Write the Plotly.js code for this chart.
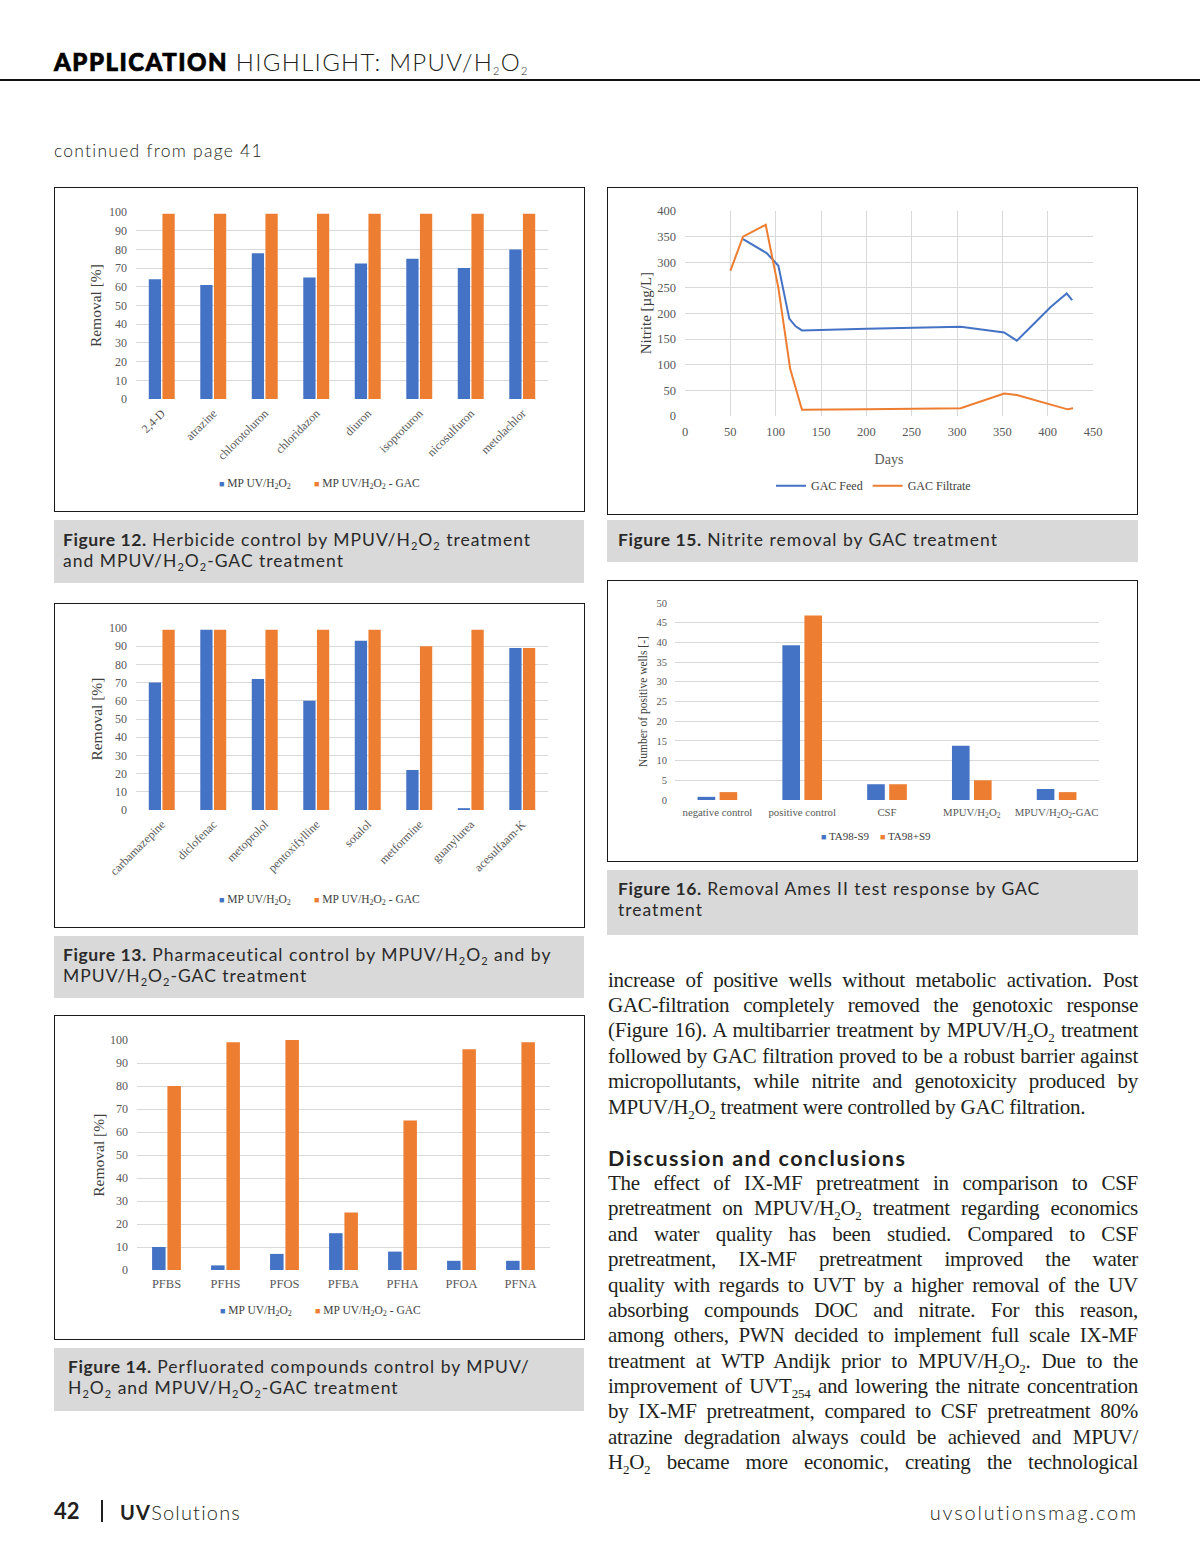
<!DOCTYPE html>
<html>
<head>
<meta charset="utf-8">
<script src="https://cdn.plot.ly/plotly-3.0.1.min.js"></script>
<style>
  html,body{margin:0;padding:0;background:#fff;}
  body{width:1200px;height:1558px;position:relative;overflow:hidden;font-family:"Lato","Open Sans",sans-serif;color:#231f20;}
  .abs{position:absolute;}
  .box{position:absolute;border:1.5px solid #1a1a1a;background:#fff;box-sizing:border-box;}
  .plot{position:absolute;left:0;top:0;}
  .cap{position:absolute;background:#d9d9d9;font-family:"Lato",sans-serif;font-size:17.5px;letter-spacing:1.0px;color:#2a2a2a;line-height:21px;box-sizing:border-box;white-space:nowrap;}
  .cap b{font-weight:700;letter-spacing:0.6px;}
  .cap sub, .hdr sub{font-size:11px;vertical-align:-4px;line-height:0;}
  .tl{position:absolute;left:608px;width:530px;font-family:"Liberation Serif","Times New Roman",serif;font-size:21px;letter-spacing:-0.25px;line-height:25px;height:25px;text-align:justify;text-align-last:justify;color:#231f20;white-space:nowrap;}
  .tl.last{text-align-last:left;}
  .tl sub{font-size:13px;vertical-align:-5px;line-height:0;}
</style>
</head>
<body>
<!-- header -->
<div class="abs hdr" style="left:54px;top:47px;font-size:24px;line-height:30px;white-space:nowrap;">
  <span style="font-weight:900;letter-spacing:1.5px;-webkit-text-stroke:0.7px #000;color:#000;">APPLICATION</span><span style="font-weight:300;letter-spacing:1.3px;"> HIGHLIGHT: MPUV/H<sub>2</sub>O<sub>2</sub></span>
</div>
<div class="abs" style="left:0;top:79px;width:1200px;height:2px;background:#111;"></div>
<div class="abs" style="left:54px;top:140px;font-size:17.5px;font-weight:300;letter-spacing:1.25px;">continued from page 41</div>

<!-- chart boxes -->
<div class="box" style="left:54px;top:187px;width:531px;height:325px;"><div id="fig12" class="plot"></div></div>
<div class="cap" style="left:54px;top:520px;width:530px;height:63px;padding:9px 0 0 9px;"><b>Figure 12.</b> Herbicide control by MPUV/H<sub>2</sub>O<sub>2</sub> treatment<br>and MPUV/H<sub>2</sub>O<sub>2</sub>-GAC treatment</div>

<div class="box" style="left:54px;top:603px;width:531px;height:325px;"><div id="fig13" class="plot"></div></div>
<div class="cap" style="left:54px;top:936px;width:530px;height:62px;padding:8px 0 0 9px;"><b>Figure 13.</b> Pharmaceutical control by MPUV/H<sub>2</sub>O<sub>2</sub> and by<br>MPUV/H<sub>2</sub>O<sub>2</sub>-GAC treatment</div>

<div class="box" style="left:54px;top:1015px;width:531px;height:325px;"><div id="fig14" class="plot"></div></div>
<div class="cap" style="left:54px;top:1348px;width:530px;height:63px;padding:8px 0 0 14px;"><b>Figure 14.</b> Perfluorated compounds control by MPUV/<br>H<sub>2</sub>O<sub>2</sub> and MPUV/H<sub>2</sub>O<sub>2</sub>-GAC treatment</div>

<div class="box" style="left:607px;top:187px;width:531px;height:328px;"><div id="fig15" class="plot"></div></div>
<div class="cap" style="left:607px;top:520px;width:531px;height:42px;padding:9px 0 0 11px;"><b>Figure 15.</b> Nitrite removal by GAC treatment</div>

<div class="box" style="left:607px;top:580px;width:531px;height:282px;"><div id="fig16" class="plot"></div></div>
<div class="cap" style="left:607px;top:870px;width:531px;height:65px;padding:8px 0 0 11px;"><b>Figure 16.</b> Removal Ames II test response by GAC<br>treatment</div>

<!-- text column -->
<div class="tl" style="top:968px;">increase of positive wells without metabolic activation. Post</div>
<div class="tl" style="top:993px;">GAC-filtration completely removed the genotoxic response</div>
<div class="tl" style="top:1018px;">(Figure 16). A multibarrier treatment by MPUV/H<sub>2</sub>O<sub>2</sub> treatment</div>
<div class="tl" style="top:1044px;">followed by GAC filtration proved to be a robust barrier against</div>
<div class="tl" style="top:1069px;">micropollutants, while nitrite and genotoxicity produced by</div>
<div class="tl last" style="top:1095px;">MPUV/H<sub>2</sub>O<sub>2</sub> treatment were controlled by GAC filtration.</div>

<div class="abs" style="left:608px;top:1145px;font-family:'Lato',sans-serif;font-weight:700;font-size:21.5px;letter-spacing:1.5px;line-height:26px;white-space:nowrap;">Discussion and conclusions</div>

<div class="tl" style="top:1171px;">The effect of IX-MF pretreatment in comparison to CSF</div>
<div class="tl" style="top:1196px;">pretreatment on MPUV/H<sub>2</sub>O<sub>2</sub> treatment regarding economics</div>
<div class="tl" style="top:1222px;">and water quality has been studied. Compared to CSF</div>
<div class="tl" style="top:1247px;">pretreatment, IX-MF pretreatment improved the water</div>
<div class="tl" style="top:1273px;">quality with regards to UVT by a higher removal of the UV</div>
<div class="tl" style="top:1298px;">absorbing compounds DOC and nitrate. For this reason,</div>
<div class="tl" style="top:1323px;">among others, PWN decided to implement full scale IX-MF</div>
<div class="tl" style="top:1349px;">treatment at WTP Andijk prior to MPUV/H<sub>2</sub>O<sub>2</sub>. Due to the</div>
<div class="tl" style="top:1374px;">improvement of UVT<sub>254</sub> and lowering the nitrate concentration</div>
<div class="tl" style="top:1399px;">by IX-MF pretreatment, compared to CSF pretreatment 80%</div>
<div class="tl" style="top:1425px;">atrazine degradation always could be achieved and MPUV/</div>
<div class="tl" style="top:1450px;">H<sub>2</sub>O<sub>2</sub> became more economic, creating the technological</div>

<!-- footer -->
<div class="abs" style="left:54px;top:1497px;font-size:22px;font-weight:700;line-height:28px;">42</div>
<div class="abs" style="left:101px;top:1500px;width:1.5px;height:22px;background:#231f20;"></div>
<div class="abs" style="left:120px;top:1499px;font-size:20px;line-height:26px;letter-spacing:1.2px;white-space:nowrap;"><span style="font-weight:700;">UV</span><span style="font-weight:300;">Solutions</span></div>
<div class="abs" style="right:62px;top:1499px;font-size:20px;line-height:26px;font-weight:300;letter-spacing:1.85px;white-space:nowrap;">uvsolutionsmag.com</div>

<script>
// ---------- data ----------
const herbCats = ['2,4-D','atrazine','chlorotoluron','chloridazon','diuron','isoproturon','nicosulfuron','metolachlor'];
const herbUV   = [64, 61, 78, 65, 72.5, 75, 70, 80];
const herbGAC  = [99, 99, 99, 99, 99, 99, 99, 99];

const pharmCats = ['carbamazepine','diclofenac','metoprolol','pentoxifylline','sotalol','metformine','guanylurea','acesulfaam-K'];
const pharmUV   = [70, 99, 72, 60, 93, 22, 1, 89];
const pharmGAC  = [99, 99, 99, 99, 99, 90, 99, 89];

const pfasCats = ['PFBS','PFHS','PFOS','PFBA','PFHA','PFOA','PFNA'];
const pfasUV   = [10, 2, 7, 16, 8, 4, 4];
const pfasGAC  = [80, 99, 100, 25, 65, 96, 99];

const feedDays    = [64, 90, 103, 115, 122, 129, 200, 304, 352, 366, 403, 421, 427];
const feedNitrite = [345, 318, 293, 190, 175, 167, 170, 174, 163, 147, 212, 239, 226];
const filtDays    = [50, 64, 89, 103, 116, 129, 200, 304, 352, 366, 422, 428];
const filtNitrite = [283, 350, 373, 250, 92, 12, 13, 15, 44, 41, 13, 15];

const amesCats  = ['negative control','positive control','CSF','MPUV/H<sub>2</sub>O<sub>2</sub>','MPUV/H<sub>2</sub>O<sub>2</sub>-GAC'];
const amesMinus = [0.8, 39.3, 4, 13.8, 2.8];
const amesPlus  = [2, 46.8, 4, 5, 2];

const seriesUV  = 'MP UV/H<sub>2</sub>O<sub>2</sub>';
const seriesGAC = 'MP UV/H<sub>2</sub>O<sub>2</sub> - GAC';
const BLUE = '#4472C4', ORANGE = '#ED7D31';
const SERIF = '"Liberation Serif","Times New Roman",serif';
const GRID = '#d9d9d9';
const cfg = {staticPlot:true, displayModeBar:false};

function yTitle(text, x, size){
  return {xref:'paper', yref:'paper', x:x, y:0.5, xanchor:'center', yanchor:'middle',
          text:text, textangle:-90, showarrow:false, font:{family:SERIF, size:size, color:'#404040'}};
}

// legend entries drawn as annotations (small Excel-style squares), positions in div pixels
function legendAnns(w, h, m, items, yPx, fs){
  const pw = w - m.l - m.r, ph = h - m.t - m.b;
  return items.map(it => ({
    xref:'paper', yref:'paper', x:(it.px - m.l)/pw, y:(h - m.b - yPx)/ph,
    xanchor:'left', yanchor:'middle', showarrow:false,
    text:'<span style="color:'+it.color+';font-size:9px;">■</span> '+it.text,
    font:{family:SERIF, size:fs, color:'#404040'}
  }));
}

function barChart(id, w, h, cats, a, b, names, m, leg, ttlX, opts){
  const traces = [
    {type:'bar', x:cats, y:a, name:names[0], marker:{color:BLUE}, showlegend:false},
    {type:'bar', x:cats, y:b, name:names[1], marker:{color:ORANGE}, showlegend:false}
  ];
  const layout = {
    width:w, height:h, margin:m, paper_bgcolor:'#fff', plot_bgcolor:'#fff',
    font:{family:SERIF, size:11, color:'#595959'},
    barmode:'group', bargap:opts.bargap, bargroupgap:opts.bargroupgap,
    xaxis:{tickangle:opts.tickangle, showgrid:false, zeroline:false, showline:false,
           tickfont:{family:SERIF, size:opts.xfs, color:'#595959'}, ticklabelstandoff:opts.xstandoff, automargin:false},
    yaxis:{range:opts.yrange, dtick:opts.dtick, showgrid:true, gridcolor:GRID, gridwidth:1, zeroline:false,
           tickfont:{family:SERIF, size:opts.yfs, color:'#595959'}, ticklabelstandoff:opts.standoff, automargin:false, fixedrange:true},
    showlegend:false,
    annotations:[yTitle(opts.ytitle, ttlX, opts.tfs)].concat(
      legendAnns(w, h, m, [{px:leg.x1, color:BLUE, text:names[0]}, {px:leg.x2, color:ORANGE, text:names[1]}], leg.y, opts.lfs))
  };
  Plotly.newPlot(id, traces, layout, cfg);
}

// Figure 12
barChart('fig12', 528, 322, herbCats, herbUV, herbGAC, [seriesUV, seriesGAC],
  {l:81, r:35, t:24, b:111}, {x1:162, x2:257, y:295.5}, -0.098,
  {bargap:0.47, bargroupgap:0.1, tickangle:-45, xfs:12, xstandoff:4, yfs:12, lfs:11.5, yrange:[0,100], dtick:10, standoff:8,
   ytitle:'Removal [%]', tfs:15.5});

// Figure 13
barChart('fig13', 528, 322, pharmCats, pharmUV, pharmGAC, [seriesUV, seriesGAC],
  {l:81, r:35, t:24, b:116}, {x1:162, x2:257, y:295.5}, -0.098,
  {bargap:0.47, bargroupgap:0.1, tickangle:-45, xfs:12, xstandoff:4, yfs:12, lfs:11.5, yrange:[0,100], dtick:10, standoff:8,
   ytitle:'Removal [%]', tfs:15.5});

// Figure 14
barChart('fig14', 528, 322, pfasCats, pfasUV, pfasGAC, [seriesUV, seriesGAC],
  {l:82, r:33, t:24, b:68}, {x1:163, x2:258, y:294.5}, -0.095,
  {bargap:0.48, bargroupgap:0.12, tickangle:0, xfs:12.5, xstandoff:4, yfs:12, lfs:11.5, yrange:[0,100], dtick:10, standoff:8,
   ytitle:'Removal [%]', tfs:15.5});

// Figure 15 (line)
Plotly.newPlot('fig15', [
  {type:'scatter', mode:'lines', x:feedDays, y:feedNitrite, name:'GAC Feed', line:{color:'#4472C4', width:2}},
  {type:'scatter', mode:'lines', x:filtDays, y:filtNitrite, name:'GAC Filtrate', line:{color:'#ED7D31', width:2}}
], {
  width:528, height:325, margin:{l:77, r:43, t:23, b:97}, paper_bgcolor:'#fff', plot_bgcolor:'#fff',
  font:{family:SERIF, size:11, color:'#595959'},
  xaxis:{range:[0,450], dtick:50, showgrid:true, gridcolor:GRID, zeroline:false, showline:false,
         tickfont:{family:SERIF, size:12.5, color:'#595959'}, ticklabelstandoff:6,
         title:{text:'Days', font:{family:SERIF, size:14, color:'#595959'}, standoff:16}, automargin:false},
  yaxis:{range:[0,400], dtick:50, showgrid:true, gridcolor:GRID, zeroline:false, showline:false,
         tickfont:{family:SERIF, size:12.5, color:'#595959'}, ticklabelstandoff:8, automargin:false},
  showlegend:true,
  legend:{orientation:'h', x:0.462, xanchor:'center', y:-0.34, yanchor:'middle',
          font:{family:SERIF, size:12, color:'#404040'}},
  annotations:[yTitle('Nitrite [µg/L]', -0.096, 15)]
}, cfg);

// Figure 16
barChart('fig16', 528, 279, amesCats, amesMinus, amesPlus, ['TA98-S9','TA98+S9'],
  {l:67, r:37, t:22, b:60}, {x1:211, x2:270, y:254.5}, -0.074,
  {bargap:0.48, bargroupgap:0.2, tickangle:0, xfs:10.8, xstandoff:4, yfs:10.5, lfs:11, yrange:[0,50], dtick:5, standoff:7,
   ytitle:'Number of positive wells [-]', tfs:11.5});
</script>
</body>
</html>
